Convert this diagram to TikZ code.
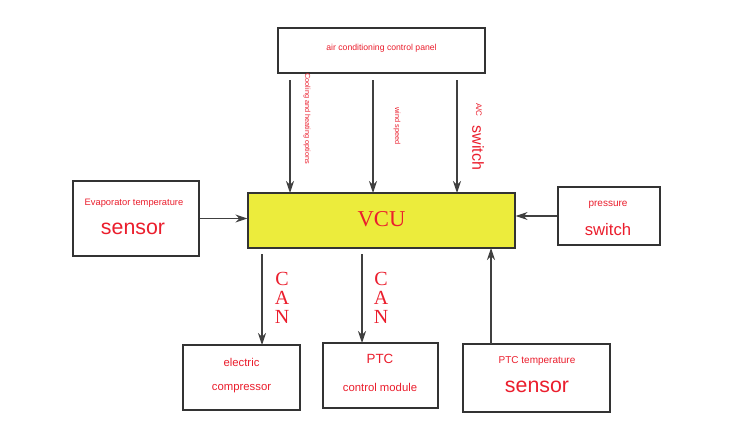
\documentclass[tikz,border=0pt]{standalone}
\usepackage{fontspec}
\setmainfont{Liberation Sans}
\newfontfamily\serifx{Liberation Serif}
\usetikzlibrary{arrows.meta}
\definecolor{lbl}{RGB}{235,30,45}
\definecolor{vcuy}{RGB}{236,236,60}
\begin{document}
\begin{tikzpicture}[x=0.75pt,y=-0.75pt,
  box/.style={draw=black!80,line width=1pt,fill=white},
  arr/.style={draw=black!75,line width=0.8pt,-{Stealth[length=9pt,width=6pt]}},
  txt/.style={text=lbl,inner sep=0pt},
  can/.style={text=lbl,font=\serifx\fontsize{15}{15}\selectfont,inner sep=0pt}]
\useasboundingbox (0,0) rectangle (750,422);
\fill[white] (0,0) rectangle (750,422);
\node[box,minimum width=207*0.75pt,minimum height=45*0.75pt] (panel) at (381.5,50.5) {};
\node[txt,font=\fontsize{6.5}{7}\selectfont] (tpanel) at (381.5,48) {air conditioning control panel};
\node[box,fill=vcuy,minimum width=267*0.75pt,minimum height=55*0.75pt] (vcu) at (381.5,220.5) {};
\node[txt,font=\serifx\fontsize{17}{17}\selectfont] (tvcu) at (381.5,219) {VCU};
\node[box,minimum width=126*0.75pt,minimum height=75*0.75pt] (evap) at (136,218.5) {};
\node[txt,font=\fontsize{7}{8}\selectfont] (tevap1) at (134,203) {Evaporator temperature};
\node[txt,font=\fontsize{16}{16}\selectfont] (tevap2) at (133,229) {sensor};
\node[box,minimum width=102*0.75pt,minimum height=58*0.75pt] (press) at (609,216) {};
\node[txt,font=\fontsize{7.5}{8}\selectfont] (tp1) at (608,205) {pressure};
\node[txt,font=\fontsize{12.5}{13}\selectfont] (tp2) at (608,230) {switch};
\node[box,minimum width=117*0.75pt,minimum height=65*0.75pt] (comp) at (241.5,377.5) {};
\node[txt,font=\fontsize{8.5}{9}\selectfont] (tc1) at (241.5,362) {electric};
\node[txt,font=\fontsize{8.5}{9}\selectfont] (tc2) at (241.5,389) {compressor};
\node[box,minimum width=115*0.75pt,minimum height=65*0.75pt] (ptc) at (380.5,375.5) {};
\node[txt,font=\fontsize{10}{10}\selectfont] (tptc1) at (380,359) {PTC};
\node[txt,font=\fontsize{8.5}{9}\selectfont] (tptc2) at (380,387) {control module};
\node[box,minimum width=147*0.75pt,minimum height=68*0.75pt] (pts) at (536.5,378) {};
\node[txt,font=\fontsize{7.5}{8}\selectfont] (tpts1) at (537,361) {PTC temperature};
\node[txt,font=\fontsize{16}{16}\selectfont] (tpts2) at (537,387) {sensor};
% arrows from panel
\coordinate (p1) at (290,80); \coordinate (v1) at (290,193);
\coordinate (p2) at (373,80); \coordinate (v2) at (373,193);
\coordinate (p3) at (457,80); \coordinate (v3) at (457,193);
\draw[arr] (p1) -- (v1);
\draw[arr] (p2) -- (v2);
\draw[arr] (p3) -- (v3);
\node[txt,rotate=-90,font=\fontsize{5.5}{6}\selectfont] (l1) at (307,119) {Cooling and heating options};
\node[txt,rotate=-90,font=\fontsize{5.5}{6}\selectfont] (l2) at (397,126) {wind speed};
\node[txt,rotate=-90,font=\fontsize{6}{6}\selectfont] (l3) at (479,110) {A/C};
\node[txt,rotate=-90,font=\fontsize{12}{12}\selectfont] (l4) at (478,148) {switch};
\draw[arr] (evap.east) -- (vcu.west |- evap.east);
\draw[arr] (press.west) -- (vcu.east |- press.west);
\coordinate (c1) at (262,254); \coordinate (c1e) at (262,345);
\coordinate (c2) at (362,254); \coordinate (c2e) at (362,343);
\coordinate (s1) at (491,344); \coordinate (s1e) at (491,248);
\draw[arr] (c1) -- (c1e);
\draw[arr] (c2) -- (c2e);
\draw[arr] (s1) -- (s1e);
\node[can] (ca1) at (282,279) {C};
\node[can] (cb1) at (282,298) {A};
\node[can] (cc1) at (282,317) {N};
\node[can] (ca2) at (381,279) {C};
\node[can] (cb2) at (381,298) {A};
\node[can] (cc2) at (381,317) {N};
\end{tikzpicture}
\end{document}
